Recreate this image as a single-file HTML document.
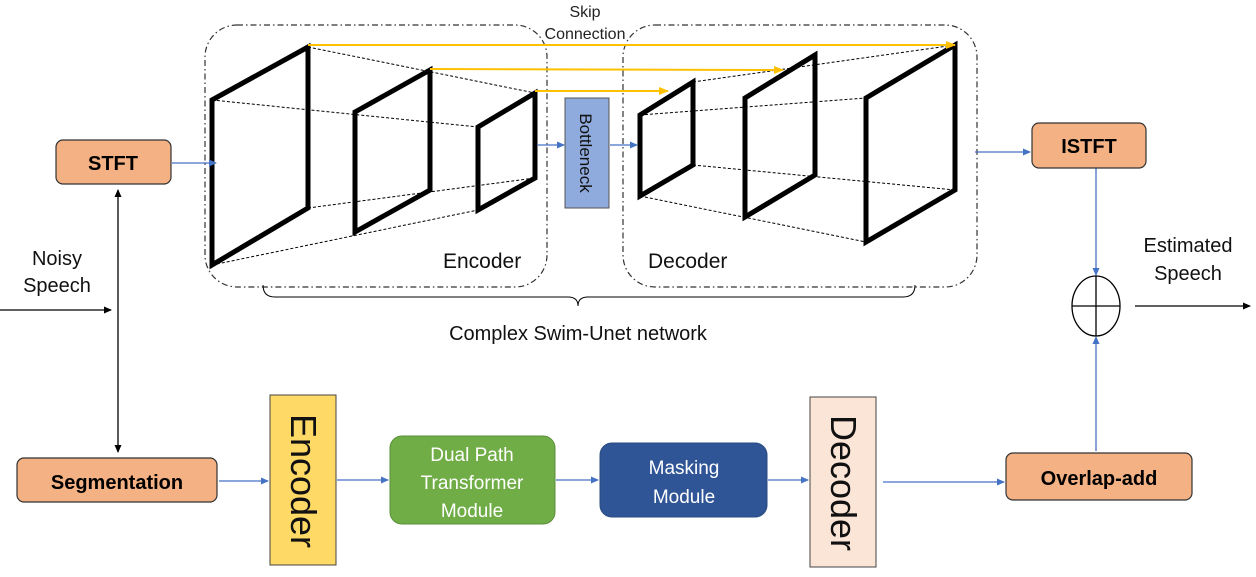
<!DOCTYPE html>
<html><head><meta charset="utf-8"><style>
html,body{margin:0;padding:0;background:#fff;}
svg{display:block;font-family:"Liberation Sans","Noto Sans CJK SC",sans-serif;}
</style></head><body>
<svg width="1256" height="577" viewBox="0 0 1256 577" xmlns="http://www.w3.org/2000/svg">
<defs>
<marker id="ab" markerWidth="8" markerHeight="8" refX="7" refY="4" orient="auto" markerUnits="userSpaceOnUse"><path d="M0,0.5 L8,4 L0,7.5z" fill="#4472c4"/></marker>
<marker id="ak" markerWidth="8" markerHeight="8" refX="7" refY="4" orient="auto-start-reverse" markerUnits="userSpaceOnUse"><path d="M0,0.5 L8,4 L0,7.5z" fill="#000"/></marker>
<marker id="ao" markerWidth="10" markerHeight="10" refX="9" refY="5" orient="auto" markerUnits="userSpaceOnUse"><path d="M0,1 L10,5 L0,9z" fill="#ffc000"/></marker>
</defs>
<rect x="205" y="25" width="342" height="262" rx="32" fill="none" stroke="#333" stroke-width="1.2" stroke-dasharray="6,3,1.5,3"/>
<rect x="623" y="25" width="354" height="262" rx="32" fill="none" stroke="#333" stroke-width="1.2" stroke-dasharray="6,3,1.5,3"/>
<g stroke="#000" stroke-width="1" stroke-dasharray="3,2" fill="none">
<path d="M212,100 L478,127 M308,47 L535,93 M308,208 L535,178 M212,265 L478,210"/>
<path d="M640,115 L866,98 M693,82 L955,45 M693,165 L955,190 M640,196 L866,242"/>
</g>
<g stroke="#000" stroke-width="5" fill="none" stroke-linejoin="miter">
<path d="M212,100 L308,47 L308,208 L212,265 Z"/>
<path d="M355,112 L430,70 L430,190 L355,232 Z"/>
<path d="M478,127 L535,93 L535,178 L478,210 Z"/>
<path d="M640,115 L693,82 L693,165 L640,196 Z"/>
<path d="M745,98 L815,55 L815,175 L745,217 Z"/>
<path d="M866,98 L955,45 L955,190 L866,242 Z"/>
</g>
<g stroke="#ffc000" stroke-width="2" fill="none">
<line x1="308" y1="45" x2="955" y2="45" marker-end="url(#ao)"/>
<line x1="430" y1="69" x2="783" y2="70" marker-end="url(#ao)"/>
<line x1="535" y1="91" x2="668" y2="91" marker-end="url(#ao)"/>
</g>
<text x="585" y="17" font-size="16" text-anchor="middle" fill="#222" font-stretch="condensed">Skip</text>
<text x="585" y="39" font-size="16" text-anchor="middle" fill="#222" font-stretch="condensed">Connection</text>
<rect x="565" y="98" width="44" height="110" fill="#8faadc" stroke="#555" stroke-width="1"/>
<text transform="translate(580,153) rotate(90)" font-size="17" text-anchor="middle" fill="#111">Bottleneck</text>
<g stroke="#4472c4" stroke-width="1.3" fill="none" marker-end="url(#ab)">
<line x1="537" y1="145" x2="564" y2="145"/>
<line x1="610" y1="145" x2="637" y2="145"/>
<line x1="172" y1="163" x2="216" y2="163"/>
<line x1="975" y1="152" x2="1030" y2="152"/>
<line x1="1096" y1="168" x2="1096" y2="275"/>
<line x1="1096" y1="451" x2="1096" y2="337"/>
<line x1="219" y1="481" x2="268" y2="481"/>
<line x1="337" y1="480" x2="388" y2="480"/>
<line x1="556" y1="480" x2="598" y2="480"/>
<line x1="768" y1="480" x2="808" y2="480"/>
<line x1="883" y1="482" x2="1004" y2="482"/>
</g>
<text x="443" y="268" font-size="21" fill="#111">Encoder</text>
<text x="648" y="268" font-size="21" fill="#111">Decoder</text>
<path d="M263,285 Q263,297 275,297 L568,297 Q578,297 578,306 Q578,297 588,297 L903,297 Q915,297 915,285" fill="none" stroke="#000" stroke-width="1"/>
<text x="578" y="340" font-size="20" text-anchor="middle" fill="#111">Complex Swim-Unet network</text>
<rect x="56" y="140" width="115" height="44" rx="7" fill="#f4b183" stroke="#333" stroke-width="1.2"/>
<text x="113" y="170" font-size="20" font-weight="bold" text-anchor="middle">STFT</text>
<rect x="1032" y="123" width="114" height="45" rx="7" fill="#f4b183" stroke="#333" stroke-width="1.2"/>
<text x="1089" y="153" font-size="20" font-weight="bold" text-anchor="middle">ISTFT</text>
<text x="57" y="265" font-size="20" text-anchor="middle" fill="#111">Noisy</text>
<text x="57" y="292" font-size="20" text-anchor="middle" fill="#111">Speech</text>
<line x1="0" y1="310" x2="111" y2="310" stroke="#000" stroke-width="1.3" marker-end="url(#ak)"/>
<line x1="118" y1="452" x2="118" y2="190" stroke="#000" stroke-width="1.3" marker-end="url(#ak)" marker-start="url(#ak)"/>
<rect x="17" y="458" width="200" height="44" rx="7" fill="#f4b183" stroke="#333" stroke-width="1.2"/>
<text x="117" y="489" font-size="20" font-weight="bold" text-anchor="middle">Segmentation</text>
<rect x="270" y="395" width="66" height="170" fill="#ffd966" stroke="#444" stroke-width="1"/>
<text transform="translate(291,481) rotate(90)" font-size="36" text-anchor="middle" fill="#111">Encoder</text>
<rect x="390" y="436" width="165" height="88" rx="12" fill="#70ad47" stroke="#5a8f38" stroke-width="1"/>
<text x="472" y="461" font-size="19" text-anchor="middle" fill="#fff">Dual Path</text>
<text x="472" y="489" font-size="19" text-anchor="middle" fill="#fff">Transformer</text>
<text x="472" y="517" font-size="19" text-anchor="middle" fill="#fff">Module</text>
<rect x="600" y="443" width="167" height="74" rx="12" fill="#2f5597" stroke="#2a4a80" stroke-width="1"/>
<text x="684" y="474" font-size="19" text-anchor="middle" fill="#fff">Masking</text>
<text x="684" y="503" font-size="19" text-anchor="middle" fill="#fff">Module</text>
<rect x="810" y="397" width="66" height="170" fill="#fbe5d6" stroke="#444" stroke-width="1"/>
<text transform="translate(831,483) rotate(90)" font-size="36" text-anchor="middle" fill="#111">Decoder</text>
<rect x="1006" y="453" width="186" height="47" rx="7" fill="#f4b183" stroke="#333" stroke-width="1.2"/>
<text x="1099" y="485" font-size="20" font-weight="bold" text-anchor="middle">Overlap-add</text>
<ellipse cx="1096" cy="306" rx="24" ry="30" fill="#fff" stroke="#000" stroke-width="1.3"/>
<line x1="1096" y1="276" x2="1096" y2="336" stroke="#000" stroke-width="1.3"/>
<line x1="1072" y1="306" x2="1120" y2="306" stroke="#000" stroke-width="1.3"/>
<line x1="1135" y1="306" x2="1250" y2="306" stroke="#000" stroke-width="1.3" marker-end="url(#ak)"/>
<text x="1188" y="252" font-size="20" text-anchor="middle" fill="#111">Estimated</text>
<text x="1188" y="280" font-size="20" text-anchor="middle" fill="#111">Speech</text>
</svg>
</body></html>
